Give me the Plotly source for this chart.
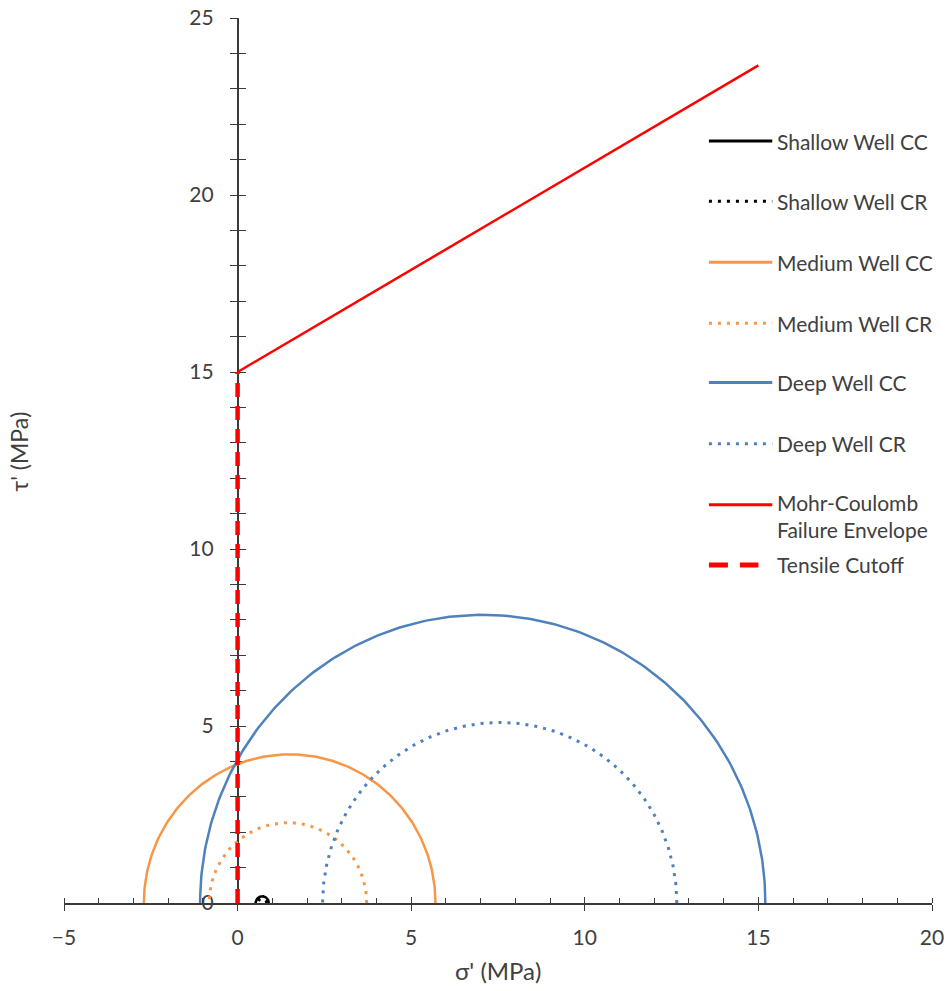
import numpy as np
import plotly.graph_objects as go

# Effective principal stresses (MPa) that bound each Mohr circle
well_names = ["Shallow Well", "Medium Well", "Deep Well"]
well_colors = ["#000000", "#F79646", "#4F81BD"]
cc_sigma3 = [0.52, -2.70, -1.08]
cc_sigma1 = [0.90, 5.70, 15.20]
cr_sigma3 = [0.58, -0.82, 2.45]
cr_sigma1 = [0.84, 3.72, 12.65]

# Mohr-Coulomb failure envelope and tensile cutoff
envelope_sigma = [0.0, 15.0]
envelope_tau = [15.0, 23.66]
cutoff_sigma = [0.0, 0.0]
cutoff_tau = [0.0, 15.0]

x_range = [-5, 20]
y_range = [0, 25]
x_ticks = [-5, 0, 5, 10, 15, 20]
y_ticks = [0, 5, 10, 15, 20, 25]

FONT = "Lato"
TEXT = "#404040"
AXIS = "#3a3a3a"
DOT = "3px,6px"


def semicircle(s3, s1, n=241):
    c = 0.5 * (s1 + s3)
    r = 0.5 * (s1 - s3)
    t = np.linspace(0.0, np.pi, n)
    return c + r * np.cos(t), r * np.sin(t)


fig = go.Figure()

for name, color, a3, a1, b3, b1 in zip(well_names, well_colors,
                                       cc_sigma3, cc_sigma1, cr_sigma3, cr_sigma1):
    x, y = semicircle(a3, a1)
    fig.add_trace(go.Scatter(x=x, y=y, mode="lines", name=f"{name} CC",
                             line=dict(color=color, width=2.5), showlegend=False))
    x, y = semicircle(b3, b1)
    fig.add_trace(go.Scatter(x=x, y=y, mode="lines", name=f"{name} CR",
                             line=dict(color=color, width=3, dash=DOT), showlegend=False))

fig.add_trace(go.Scatter(x=envelope_sigma, y=envelope_tau, mode="lines",
                         name="Mohr-Coulomb Failure Envelope",
                         line=dict(color="#FF0000", width=2.5), showlegend=False))
fig.add_trace(go.Scatter(x=cutoff_sigma, y=cutoff_tau, mode="lines",
                         name="Tensile Cutoff",
                         line=dict(color="#FF0000", width=4.5, dash="14px,9px"),
                         showlegend=False))

# companion traces so the overlay axes (inner half of the crossing ticks) get drawn
fig.add_trace(go.Scatter(x=[0], y=[0], xaxis="x2", yaxis="y", mode="markers",
                         marker=dict(opacity=0), hoverinfo="skip", showlegend=False))
fig.add_trace(go.Scatter(x=[0], y=[0], xaxis="x", yaxis="y2", mode="markers",
                         marker=dict(opacity=0), hoverinfo="skip", showlegend=False))

zero_pos = (0 - x_range[0]) / (x_range[1] - x_range[0])
tickfont = dict(family=FONT, size=21, color=TEXT)

fig.update_layout(
    width=948, height=991,
    margin=dict(l=64, r=16, t=18, b=88),
    paper_bgcolor="white", plot_bgcolor="white",
    showlegend=False,
    xaxis=dict(range=x_range, tickvals=x_ticks, showgrid=False, zeroline=False,
               showline=True, linecolor=AXIS, linewidth=1.5,
               ticks="outside", ticklen=6, tickwidth=1.3, tickcolor=AXIS,
               minor=dict(dtick=1, ticks="inside", ticklen=5, tickwidth=1.3,
                          tickcolor=AXIS, showgrid=False),
               tickfont=tickfont, ticklabelstandoff=9,
               layer="below traces", automargin=False,
               anchor="y", fixedrange=True),
    xaxis2=dict(range=x_range, tickvals=x_ticks, overlaying="x", anchor="y",
                side="bottom", showgrid=False, zeroline=False, showline=False,
                ticks="inside", ticklen=6, tickwidth=1.3, tickcolor=AXIS,
                showticklabels=False, layer="below traces", automargin=False),
    yaxis=dict(range=y_range, tickvals=y_ticks, showgrid=False, zeroline=False,
               anchor="free", position=zero_pos,
               showline=True, linecolor=AXIS, linewidth=1.5,
               ticks="outside", ticklen=7, tickwidth=1.3, tickcolor=AXIS,
               minor=dict(dtick=1, ticks="outside", ticklen=7, tickwidth=1.3,
                          tickcolor=AXIS, showgrid=False),
               tickfont=tickfont, ticklabelstandoff=12,
               layer="below traces", automargin=False),
    yaxis2=dict(range=y_range, tickvals=y_ticks, overlaying="y",
                anchor="free", position=zero_pos, side="left",
                showgrid=False, zeroline=False, showline=False,
                ticks="inside", ticklen=7, tickwidth=1.3, tickcolor=AXIS,
                minor=dict(dtick=1, ticks="inside", ticklen=7, tickwidth=1.3,
                           tickcolor=AXIS, showgrid=False),
                showticklabels=False, layer="below traces", automargin=False),
)

# axis titles
fig.add_annotation(text="σ' (MPa)", xref="paper", yref="paper", x=0.5, y=-0.076,
                   xanchor="center", yanchor="middle", showarrow=False,
                   font=dict(family=FONT, size=24, color=TEXT))
fig.add_annotation(text="τ' (MPa)", xref="paper", yref="paper", x=-0.052, y=0.51,
                   xanchor="center", yanchor="middle", showarrow=False, textangle=-90,
                   font=dict(family=FONT, size=23, color=TEXT))

# key: sample line + label per series, stacked down the right side
legend_items = [
    ("Shallow Well CC", "#000000", "solid", 3, 0.816),
    ("Shallow Well CR", "#000000", DOT, 3, 0.816),
    ("Medium Well CC", "#F79646", "solid", 3, 0.816),
    ("Medium Well CR", "#F79646", DOT, 3, 0.816),
    ("Deep Well CC", "#4F81BD", "solid", 3, 0.816),
    ("Deep Well CR", "#4F81BD", DOT, 3, 0.816),
    ("Mohr-Coulomb<br>Failure Envelope", "#FF0000", "solid", 3, 0.816),
    ("Tensile Cutoff", "#FF0000", "19px,12px", 5, 0.800),
]
legend_rows = [0.861, 0.793, 0.724, 0.655, 0.588, 0.519, 0.450, 0.382]
key_x0, key_text_x = 0.743, 0.819

for (label, color, dash, width, x1), ry in zip(legend_items, legend_rows):
    fig.add_shape(type="line", xref="paper", yref="paper",
                  x0=key_x0, x1=x1, y0=ry, y1=ry,
                  line=dict(color=color, width=width, dash=dash))
    multi = "<br>" in label
    fig.add_annotation(text=label, xref="paper", yref="paper",
                       x=key_text_x, y=ry + (0.019 if multi else 0),
                       xanchor="left", yanchor="top" if multi else "middle",
                       align="left", showarrow=False,
                       font=dict(family=FONT, size=21, color=TEXT))

fig.write_html("out.html")
